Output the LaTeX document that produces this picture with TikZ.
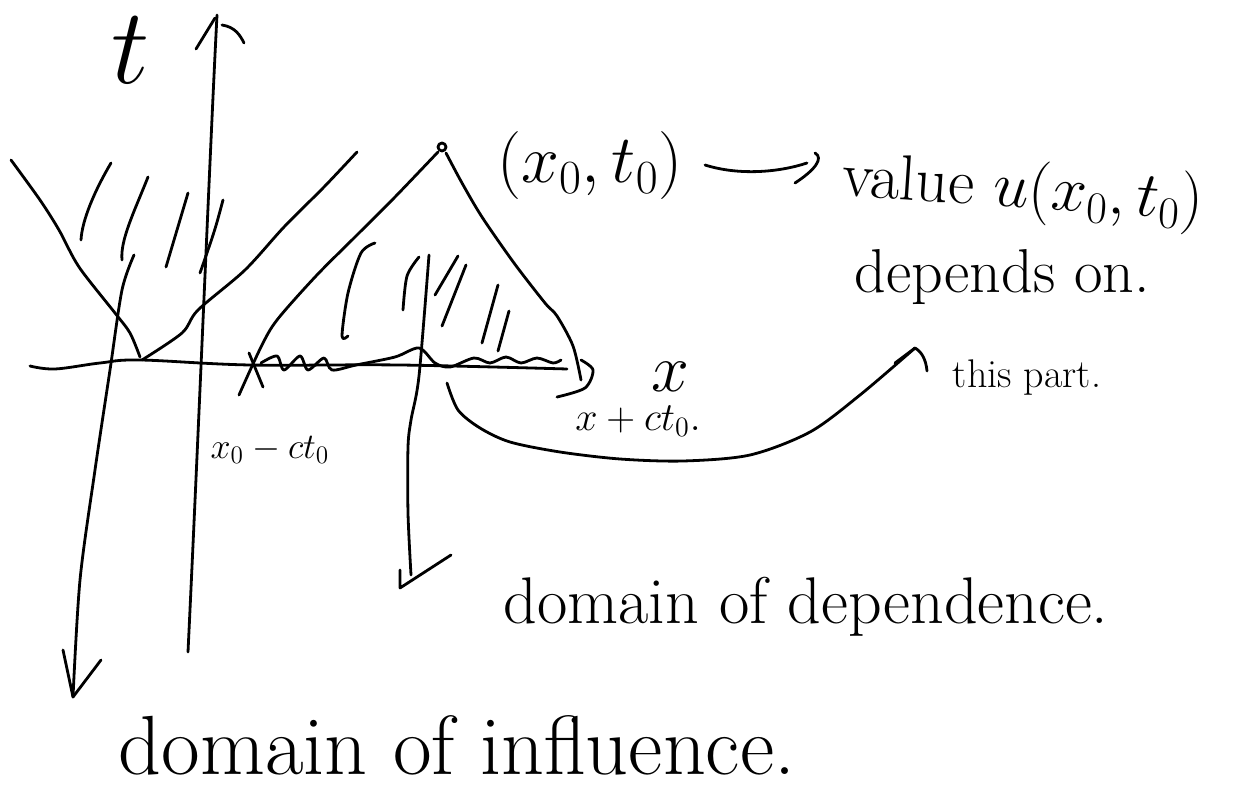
\RequirePackage{fix-cm}
\documentclass[tikz,border=0pt]{standalone}
\begin{document}
\begin{tikzpicture}[x=0.5pt,y=-0.5pt,
  ink/.style={line width=1.4pt,line cap=round,line join=round},
  lbl/.style={inner sep=0pt,anchor=center}]
\useasboundingbox (0,0) rectangle (1235,807);

% ---------- axes ----------
\coordinate (tbot) at (188,652);
\coordinate (ttop) at (217,15);
\draw[ink] plot[smooth,tension=0.6] coordinates {(30,366)(55,369)(100,363)(140,360)(250,365)(400,365)(567,369)};
\draw[ink] (tbot) .. controls (200,400) and (210,150) .. (ttop);
\draw[ink] (196,49) -- (215,18);
\draw[ink] (222,25) .. controls (235,27) and (240,35) .. (244,43);
\node[lbl,font=\fontsize{54}{58}\selectfont] (tlab) at (131,50) {$t$};

% ---------- domain of influence ----------
\draw[ink] plot[smooth] coordinates {(11,160)(40,200)(59,230)(79,267)(115,313)(130,333)(140,357)};
\draw[ink] plot[smooth] coordinates {(142,360)(182,333)(198,310)(245,270)(284,227)(324,187)(357,152)};
\draw[ink] (111,163) .. controls (95,190) and (82,220) .. (81,240);
\draw[ink] (148,177) .. controls (135,210) and (120,240) .. (122,260);
\draw[ink] (188,193) -- (166,267);
\draw[ink] (223,200) .. controls (215,230) .. (200,273);
\coordinate (inflStart) at (134,255);
\coordinate (inflTip) at (73,697);
\draw[ink] plot[smooth] coordinates {(inflStart)(122,290)(110,370)(95,470)(80,580)(inflTip)};
\draw[ink] (63,650) -- (inflTip) -- (101,660);
\node[lbl,font=\fontsize{42}{46}\selectfont] (infl) at (457,745) {domain of influence.};

% ---------- domain of dependence ----------
\coordinate (apex) at (442,147);
\draw[ink] (apex) circle[radius=4];
\draw[ink] plot[smooth] coordinates {(438,152)(395,197)(356,236)(316,276)(277,320)(261,347)(239,395)};
\draw[ink] plot[smooth] coordinates {(446,153)(462,183)(482,217)(514,263)(545,303)(557,316)(573,346)(581,380)};
\draw[ink] plot[smooth] coordinates {(581,360)(593,370)(585,388)(557,397)};
\draw[ink] (249,353) -- (263,387);
\draw[ink] plot[smooth,tension=0.5] coordinates {(261,363)(277,356)(284,370)(300,356)(308,370)(324,358)(332,370)(356,365)(395,357)(419,348)(435,363)(450,367)(474,358)(490,363)(506,357)(521,363)(537,358)(553,363)(561,360)};
% hatching inside the triangle
\draw[ink] plot[smooth] coordinates {(375,243)(361,253)(348,293)(342,336)(348,336)};
\draw[ink] plot[smooth] coordinates {(419,257)(407,276)(403,310)};
\draw[ink] (458,256) -- (435,295);
\draw[ink] (466,265) -- (442,326);
\draw[ink] (498,285) -- (482,343);
\draw[ink] (509,311) -- (498,351);
% arrow down to "domain of dependence"
\coordinate (depStart) at (429,255);
\draw[ink] plot[smooth] coordinates {(depStart)(419,376)(411,420)(408,447)(408,513)(411,575)};
\coordinate (depTip) at (400,588);
\draw[ink] (400,570) -- (depTip) -- (451,555);
\node[lbl,font=\fontsize{33}{37}\selectfont] (dep) at (806,607) {domain of dependence.};

% ---------- labels on the axes ----------
\node[lbl,font=\fontsize{34}{38}\selectfont] (pt) at (590,166) {$(x_0,t_0)$};
\node[lbl,font=\fontsize{34}{38}\selectfont] (xlab) at (670,377) {$x$};
\node[lbl,font=\fontsize{20}{24}\selectfont] (xr) at (638,421) {$x+ct_0.$};
\node[lbl,font=\fontsize{18}{22}\selectfont] (xl) at (270,450) {$x_0-ct_0$};

% ---------- right-hand remarks ----------
\node[lbl,font=\fontsize{32}{36}\selectfont,rotate=-4] (val) at (1023,192) {value $u(x_0,t_0)$};
\node[lbl,font=\fontsize{31}{35}\selectfont] (dpo) at (1002,277) {depends on.};
\node[lbl,font=\fontsize{20}{24}\selectfont] (part) at (1027,378) {this part.};

% arrow (x0,t0) -> value
\coordinate (a1) at (705,165);
\coordinate (a2) at (807,163);
\draw[ink] (a1) .. controls (740,176) and (780,172) .. (a2);
\draw[ink] (815,153) .. controls (824,158) and (815,170) .. (795,183);

% arrow from the x-axis segment to "this part."
\coordinate (cStart) at (447,383);
\coordinate (cTip) at (915,348);
\draw[ink] plot[smooth] coordinates {(cStart)(458,410)(480,428)(510,442)(560,452)(620,459)(683,461)(750,455)(810,432)(860,395)(cTip)};
\draw[ink] (895,363) -- (cTip) .. controls (922,352) and (926,360) .. (927,371);
\end{tikzpicture}
\end{document}
